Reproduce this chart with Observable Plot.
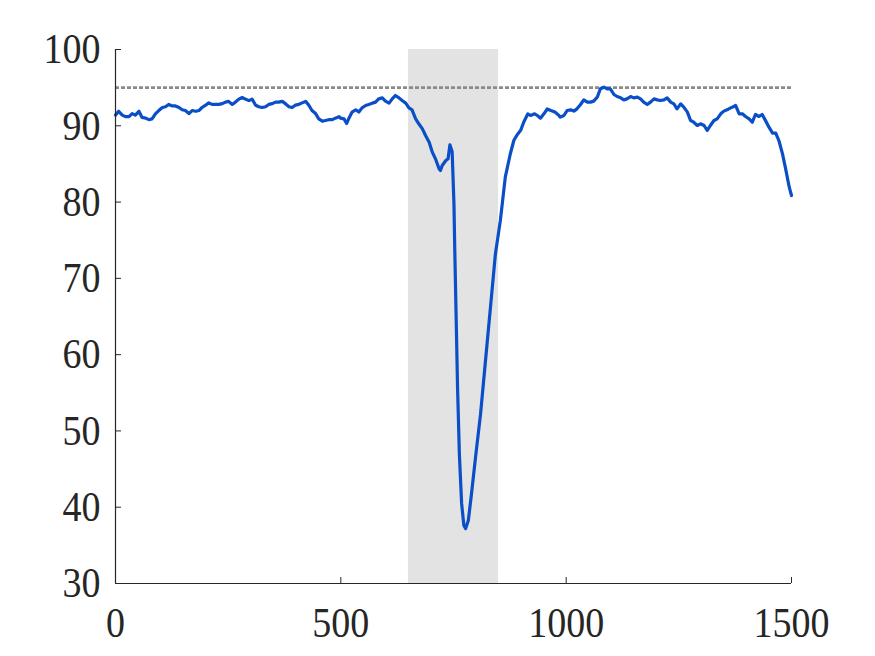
<!DOCTYPE html>
<html><head><meta charset="utf-8">
<script src="https://cdn.jsdelivr.net/npm/d3@7"></script>
<script src="https://cdn.jsdelivr.net/npm/@observablehq/plot@0.6"></script>
<style>body{margin:0;background:#fff}</style>
</head><body><div id="chart"></div>
<script>
const time = [0,7,15,22,30,37,44,52,59,67,74,81,89,96,104,111,118,126,133,141,148,155,163,170,178,185,192,200,207,214,222,229,237,244,251,259,266,274,281,288,296,303,311,318,325,333,340,348,355,362,370,377,385,392,399,407,414,422,429,436,444,451,459,466,473,481,488,496,
  499,507,513,518,525,533,540,547,555,562,570,577,584,592,599,607,614,621,629,636,644,651,658,666,673,681,688,696,703,710,718,721,725,733,738,742,747,751,753,756,759,763,768,773,777,783,790,799,810,821,832,843,854,865,876,884,891,899,906,915,921,930,936,943,951,958,966,975,984,
  987,995,1002,1010,1017,1024,1032,1039,1047,1054,1061,1069,1076,1084,1091,1098,1106,1113,1121,1128,1135,1143,1150,1158,1165,1172,1180,1187,1195,1202,1209,1217,1224,1232,1239,1246,1254,1261,1269,1276,1283,1291,1298,1306,1313,1320,1328,1335,1343,1350,1357,1365,1372,1376,1384,1391,1398,1406,1413,1420,1428,1435,1443,1450,1458,1465,1472,1480,1487,1495,1500];
const value = [91.4,91.9,91.4,91.2,91.2,91.6,91.4,91.9,91.1,91.0,90.8,90.9,91.6,92.0,92.4,92.5,92.8,92.6,92.6,92.4,92.1,92.0,91.6,92.0,91.9,92.0,92.4,92.7,93.0,92.8,92.8,92.8,92.9,93.1,93.2,92.8,93.1,93.5,93.7,93.5,93.3,93.5,92.7,92.5,92.4,92.5,92.8,92.9,93.1,93.1,93.2,92.9,92.5,92.4,92.7,92.8,93.0,93.2,92.7,92.0,91.6,90.9,90.6,90.7,90.8,90.8,91.0,91.2,
  91.0,90.9,90.3,91.0,91.8,92.1,91.8,92.35,92.66,92.79,92.97,93.1,93.53,93.66,93.23,92.97,93.53,93.97,93.66,93.31,92.97,92.35,92.09,90.91,90.26,89.6,88.73,87.85,86.54,85.67,84.36,84.14,84.79,85.45,85.67,87.5,86.6,79.8,73.2,64.5,55.7,47.0,40.5,37.6,37.2,38.3,41.8,46.6,52.2,59.2,66.2,73.2,77.6,83.3,86.3,88.1,88.8,89.4,90.5,91.57,91.35,91.57,91.35,91.0,91.6,92.2,92.0,91.8,91.35,
  91.13,91.35,92.0,92.09,91.92,92.22,92.79,93.4,93.1,93.1,93.23,93.75,94.85,95.06,94.85,94.85,94.1,93.84,93.66,93.4,93.53,93.84,93.66,93.75,93.53,93.1,92.79,93.1,93.53,93.4,93.31,93.4,93.66,93.1,92.88,92.22,92.88,92.44,91.79,90.69,90.47,90.04,90.26,90.04,89.38,90.04,90.69,90.91,91.57,91.92,92.09,92.35,92.53,92.66,91.57,91.57,91.22,90.91,90.47,91.48,91.22,91.48,90.61,89.82,89.03,89.03,88.07,86.32,84.36,81.95,80.86];
const threshold = 95;
const bandStart = 650, bandEnd = 850;
const xTicks = [0, 500, 1000, 1500];
const yTicks = [30, 40, 50, 60, 70, 80, 90, 100];

const series = time.map((t, i) => ({t, v: value[i]}));
const band = [{x1: bandStart, x2: bandEnd}];
const ink = "#262626";

const chart = Plot.plot({
  width: 875, height: 656,
  marginLeft: 115, marginRight: 84, marginTop: 49, marginBottom: 73,
  style: {fontFamily: "'Liberation Serif', 'Times New Roman', serif", fontSize: "38px", color: ink, background: "#fff"},
  x: {domain: [0, 1500], label: null},
  y: {domain: [30, 100], label: null},
  marks: [
    Plot.rect(band, {x1: "x1", x2: "x2", fill: "#e3e3e3"}),
    Plot.ruleY([threshold], {stroke: "#8a8a8a", strokeWidth: 2.6, strokeDasharray: "4,2"}),
    Plot.line(series, {x: "t", y: "v", stroke: "#0a4ec8", strokeWidth: 3.2, strokeLinejoin: "round"}),
    Plot.ruleX([0], {stroke: ink, strokeWidth: 1.2}),
    Plot.ruleY([30], {stroke: ink, strokeWidth: 1.2}),
    Plot.axisY({ticks: yTicks, tickFormat: d => String(d), tickSize: -6, tickPadding: 21, stroke: ink, fill: ink, label: null}),
    Plot.axisX({ticks: xTicks, tickFormat: d => String(d), tickSize: -6, tickPadding: 29, stroke: ink, fill: ink, label: null})
  ]
});
chart.querySelectorAll('[aria-label$="tick label"] text').forEach(t => {
  const tr = t.getAttribute("transform") || "";
  t.setAttribute("transform", tr + " scale(1,1.13)");
});
document.getElementById("chart").appendChild(chart);
</script>
</body></html>
